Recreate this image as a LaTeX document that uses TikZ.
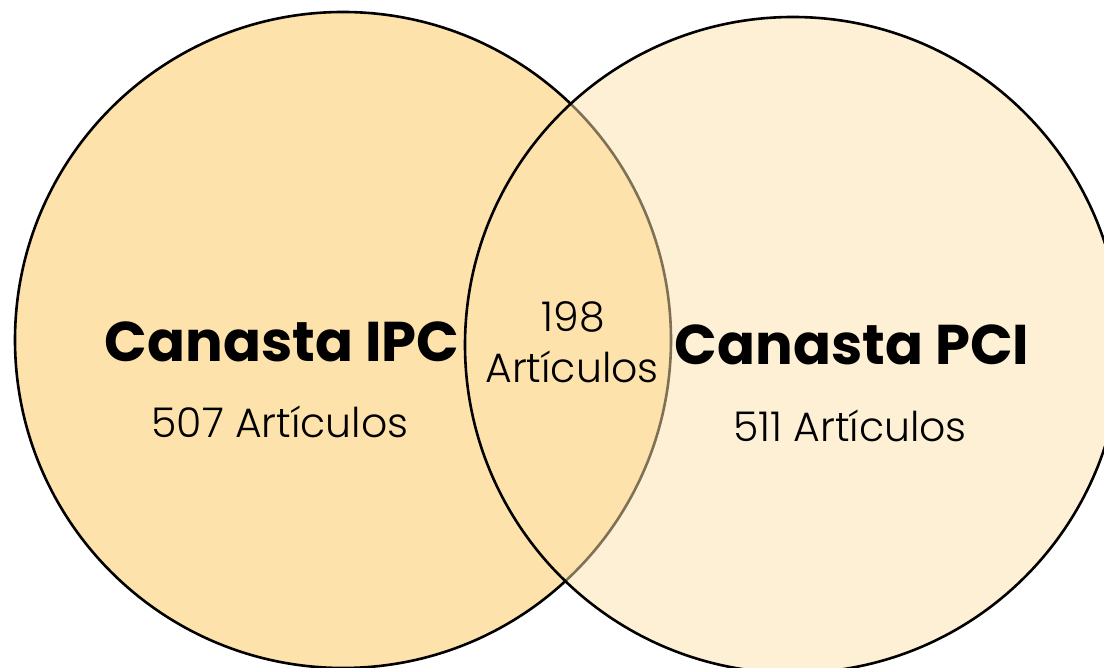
\documentclass[tikz,border=0pt]{standalone}
\usepackage{fontspec}
\setmainfont{Poppins}
\newfontfamily\lightfont{Poppins Light}
\definecolor{ipcfill}{HTML}{FDE2AB}
\begin{document}
\begin{tikzpicture}[x=1pt,y=1pt,
  venn/.style={circle, draw=black, line width=2.6pt, inner sep=0pt, minimum size=656pt, fill=ipcfill},
  title/.style={font=\fontsize{56}{64}\selectfont\bfseries, anchor=base},
  count/.style={font=\fontsize{41}{47}\selectfont\lightfont, anchor=base}]
\useasboundingbox (0,0) rectangle (1104,668);
\node[venn] (ipc) at (343,328) {};
\node[venn, fill opacity=0.5] (pci) at (793,323) {};
\node[title] (t1) at (282,306) {Canasta IPC};
\node[count] (c1) at (280,230) {507 Artículos};
\node[title] (t2) at (852,303) {Canasta PCI};
\node[count] (c2) at (850,226) {511 Artículos};
\node[count] (c3) at (573,336) {198};
\node[count] (c4) at (572,285) {Artículos};
\end{tikzpicture}
\end{document}
